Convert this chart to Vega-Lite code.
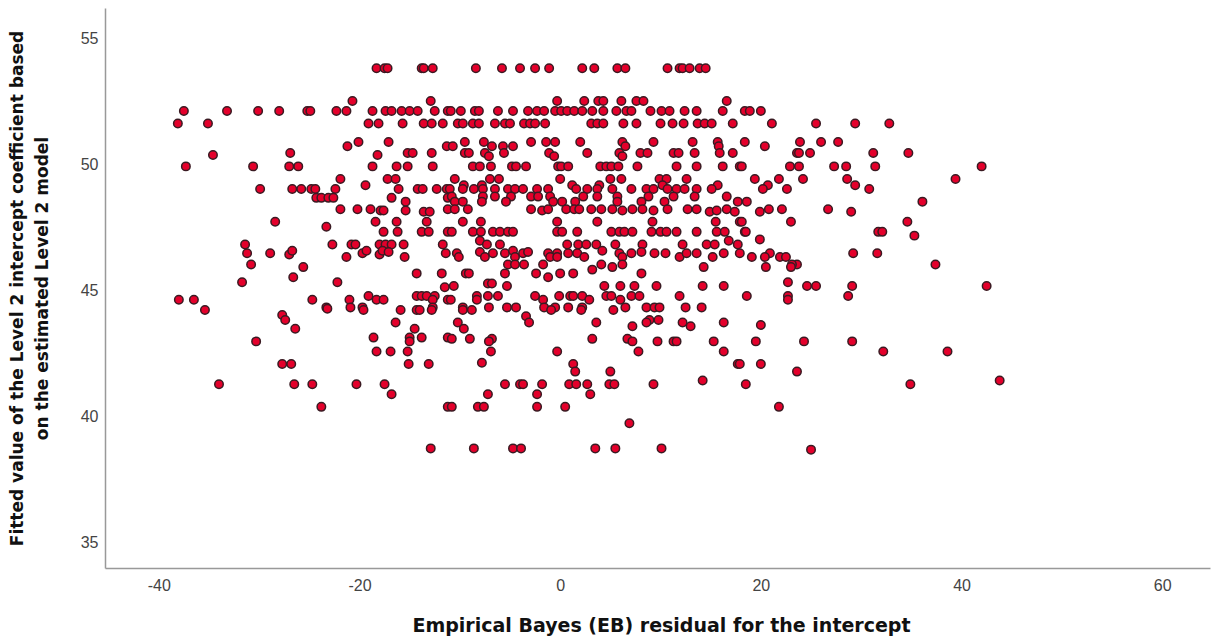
{"$schema":"https://vega.github.io/schema/vega-lite/v6.json","width":1105,"height":560,"autosize":{"type":"none"},"padding":{"left":105,"top":8,"right":11,"bottom":73},"background":"white","config":{"view":{"stroke":null}},"data":{"values":[
{"x":-18.3,"y":53.8},{"x":-17.5,"y":53.8},{"x":-17.2,"y":53.8},{"x":-13.8,"y":53.8},{"x":-13.6,"y":53.8},{"x":-12.7,"y":53.8},{"x":-8.4,"y":53.8},{"x":-5.8,"y":53.8},{"x":-4,"y":53.8},{"x":-2.5,"y":53.8},{"x":-1.1,"y":53.8},{"x":2.2,"y":53.8},{"x":3.4,"y":53.8},{"x":5.7,"y":53.8},{"x":6.5,"y":53.8},{"x":10.7,"y":53.8},{"x":11.9,"y":53.8},{"x":12.2,"y":53.8},{"x":12.9,"y":53.8},{"x":13.9,"y":53.8},{"x":14.5,"y":53.8},
{"x":-20.7,"y":52.5},{"x":-12.9,"y":52.5},{"x":-0.3,"y":52.5},{"x":2.4,"y":52.5},{"x":3.8,"y":52.5},{"x":4.3,"y":52.5},{"x":6.1,"y":52.5},{"x":7.6,"y":52.5},{"x":8.3,"y":52.5},{"x":16.6,"y":52.5},
{"x":-37.5,"y":52.1},{"x":-33.2,"y":52.1},{"x":-30.1,"y":52.1},{"x":-28,"y":52.1},{"x":-25.2,"y":52.1},{"x":-24.9,"y":52.1},{"x":-22.3,"y":52.1},{"x":-21.3,"y":52.1},{"x":-18.7,"y":52.1},{"x":-17.4,"y":52.1},{"x":-16.8,"y":52.1},{"x":-15.8,"y":52.1},{"x":-15,"y":52.1},{"x":-14.2,"y":52.1},{"x":-12.5,"y":52.1},{"x":-11.2,"y":52.1},{"x":-10.9,"y":52.1},{"x":-9.9,"y":52.1},{"x":-8.5,"y":52.1},{"x":-8.1,"y":52.1},{"x":-6.2,"y":52.1},{"x":-4.7,"y":52.1},{"x":-3.2,"y":52.1},{"x":-2.3,"y":52.1},{"x":-1.6,"y":52.1},{"x":-0.5,"y":52.1},{"x":0.1,"y":52.1},{"x":0.7,"y":52.1},{"x":1.4,"y":52.1},{"x":2.2,"y":52.1},{"x":3.2,"y":52.1},{"x":4.3,"y":52.1},{"x":5.6,"y":52.1},{"x":6.6,"y":52.1},{"x":7.1,"y":52.1},{"x":9,"y":52.1},{"x":10.1,"y":52.1},{"x":10.9,"y":52.1},{"x":12.4,"y":52.1},{"x":13.6,"y":52.1},{"x":16.2,"y":52.1},{"x":18.4,"y":52.1},{"x":18.9,"y":52.1},{"x":20,"y":52.1},
{"x":-38.1,"y":51.6},{"x":-35.1,"y":51.6},{"x":-19.1,"y":51.6},{"x":-18.1,"y":51.6},{"x":-15.7,"y":51.6},{"x":-13.6,"y":51.6},{"x":-12.8,"y":51.6},{"x":-11.7,"y":51.6},{"x":-10.2,"y":51.6},{"x":-9.7,"y":51.6},{"x":-8.7,"y":51.6},{"x":-8.1,"y":51.6},{"x":-6.5,"y":51.6},{"x":-5.5,"y":51.6},{"x":-5,"y":51.6},{"x":-3.6,"y":51.6},{"x":-3,"y":51.6},{"x":-2.5,"y":51.6},{"x":-1.5,"y":51.6},{"x":3.1,"y":51.6},{"x":3.7,"y":51.6},{"x":4.3,"y":51.6},{"x":6.3,"y":51.6},{"x":7.6,"y":51.6},{"x":10,"y":51.6},{"x":11.2,"y":51.6},{"x":12.3,"y":51.6},{"x":13.7,"y":51.6},{"x":14.4,"y":51.6},{"x":15.1,"y":51.6},{"x":17.2,"y":51.6},{"x":21.1,"y":51.6},{"x":25.5,"y":51.6},{"x":29.4,"y":51.6},{"x":32.8,"y":51.6},
{"x":-20.1,"y":50.87},{"x":-17.1,"y":50.87},{"x":-9.5,"y":50.87},{"x":-7.6,"y":50.87},{"x":-2.9,"y":50.87},{"x":-1.4,"y":50.87},{"x":-0.5,"y":50.87},{"x":2,"y":50.87},{"x":6.2,"y":50.87},{"x":9.3,"y":50.87},{"x":13.2,"y":50.87},{"x":15.7,"y":50.87},{"x":18.4,"y":50.87},{"x":23.9,"y":50.87},{"x":26,"y":50.87},{"x":27.7,"y":50.87},
{"x":-21.2,"y":50.7},{"x":-11.3,"y":50.7},{"x":-10.7,"y":50.7},{"x":-6.8,"y":50.7},{"x":-5.7,"y":50.7},{"x":-4.7,"y":50.7},{"x":6.5,"y":50.7},{"x":15.8,"y":50.7},{"x":20.4,"y":50.7},
{"x":-34.6,"y":50.35},{"x":-18.2,"y":50.35},{"x":-26.9,"y":50.43},{"x":-15.2,"y":50.43},{"x":-14.7,"y":50.43},{"x":-12.8,"y":50.43},{"x":-9.5,"y":50.43},{"x":-9.1,"y":50.43},{"x":-7.5,"y":50.43},{"x":-7.1,"y":50.3},{"x":-5.6,"y":50.43},{"x":-1.1,"y":50.43},{"x":-0.6,"y":50.3},{"x":2.7,"y":50.43},{"x":5.9,"y":50.43},{"x":6.2,"y":50.3},{"x":8,"y":50.43},{"x":8.7,"y":50.43},{"x":11.3,"y":50.43},{"x":11.8,"y":50.43},{"x":13.4,"y":50.43},{"x":15.9,"y":50.43},{"x":17.2,"y":50.43},{"x":23.6,"y":50.43},{"x":23.8,"y":50.43},{"x":24.9,"y":50.43},{"x":31.2,"y":50.43},{"x":34.7,"y":50.43},
{"x":-37.3,"y":49.9},{"x":-30.6,"y":49.9},{"x":-27,"y":49.9},{"x":-26.1,"y":49.9},{"x":-18.7,"y":49.9},{"x":-16.3,"y":49.9},{"x":-15.2,"y":49.9},{"x":-12.7,"y":49.9},{"x":-8.7,"y":49.9},{"x":-8,"y":49.9},{"x":-6.9,"y":49.9},{"x":-4.8,"y":49.9},{"x":-4.4,"y":49.9},{"x":-3.4,"y":49.9},{"x":-0.2,"y":49.9},{"x":0.1,"y":49.9},{"x":0.8,"y":49.9},{"x":4,"y":49.9},{"x":4.6,"y":49.9},{"x":5.1,"y":49.9},{"x":5.8,"y":49.9},{"x":7.7,"y":49.9},{"x":11.6,"y":49.9},{"x":13.6,"y":49.9},{"x":16.2,"y":49.9},{"x":17.9,"y":49.9},{"x":18.1,"y":49.9},{"x":22.9,"y":49.9},{"x":23.8,"y":49.9},{"x":27.3,"y":49.9},{"x":28.5,"y":49.9},{"x":31.4,"y":49.9},{"x":42,"y":49.9},
{"x":-21.9,"y":49.4},{"x":-17.2,"y":49.4},{"x":-16.4,"y":49.4},{"x":-10.5,"y":49.4},{"x":-7,"y":49.4},{"x":-6.1,"y":49.4},{"x":0,"y":49.4},{"x":5,"y":49.4},{"x":6.1,"y":49.4},{"x":9.9,"y":49.4},{"x":10.6,"y":49.4},{"x":12.6,"y":49.4},{"x":19.4,"y":49.4},{"x":21.8,"y":49.4},{"x":24.2,"y":49.4},{"x":28.6,"y":49.4},{"x":39.4,"y":49.4},
{"x":-19.4,"y":49.15},{"x":-9.6,"y":49.15},{"x":-7.8,"y":49.15},{"x":1.2,"y":49.15},{"x":3.9,"y":49.15},{"x":10.2,"y":49.15},{"x":15.7,"y":49.15},{"x":20.7,"y":49.15},{"x":29.4,"y":49.15},
{"x":-29.9,"y":49},{"x":-26.7,"y":49},{"x":-25.8,"y":49},{"x":-24.8,"y":49},{"x":-24.4,"y":49},{"x":-22.4,"y":49},{"x":-16.1,"y":49},{"x":-14.2,"y":49},{"x":-13.7,"y":49},{"x":-12.3,"y":49},{"x":-11.3,"y":49},{"x":-11,"y":49},{"x":-9.7,"y":49},{"x":-8.6,"y":49},{"x":-7.7,"y":49},{"x":-6.5,"y":49},{"x":-5.2,"y":49},{"x":-4.5,"y":49},{"x":-3.7,"y":49},{"x":-2.3,"y":49},{"x":-1.2,"y":49},{"x":1.6,"y":49},{"x":2.7,"y":49},{"x":3.7,"y":49},{"x":5.2,"y":49},{"x":7.1,"y":49},{"x":8.6,"y":49},{"x":9.3,"y":49},{"x":10.7,"y":49},{"x":11.6,"y":49},{"x":12.4,"y":49},{"x":13.6,"y":49},{"x":15.1,"y":49},{"x":20.2,"y":49},{"x":22.6,"y":49},{"x":30.8,"y":49},
{"x":-24.3,"y":48.65},{"x":-23.8,"y":48.65},{"x":-23.1,"y":48.65},{"x":-22.6,"y":48.65},{"x":-16.8,"y":48.65},{"x":-11.2,"y":48.65},{"x":-10.8,"y":48.7},{"x":-7.7,"y":48.7},{"x":-6.5,"y":48.7},{"x":-4.9,"y":48.7},{"x":-2.9,"y":48.7},{"x":-2.2,"y":48.7},{"x":-1,"y":48.7},{"x":2.3,"y":48.7},{"x":3.7,"y":48.7},{"x":5.7,"y":48.7},{"x":8.8,"y":48.7},{"x":11.3,"y":48.7},{"x":13.4,"y":48.7},{"x":16.6,"y":48.7},
{"x":-15.4,"y":48.5},{"x":-10.5,"y":48.5},{"x":-9.7,"y":48.5},{"x":-7.8,"y":48.5},{"x":-5.4,"y":48.5},{"x":-0.7,"y":48.5},{"x":0.2,"y":48.5},{"x":1.5,"y":48.5},{"x":5.7,"y":48.5},{"x":8.1,"y":48.5},{"x":10.4,"y":48.5},{"x":17.7,"y":48.5},{"x":18.6,"y":48.5},{"x":36.1,"y":48.5},
{"x":-21.9,"y":48.2},{"x":-20.2,"y":48.2},{"x":-18.9,"y":48.2},{"x":-17.9,"y":48.15},{"x":-17.6,"y":48.15},{"x":-15.4,"y":48.15},{"x":-13.6,"y":48.1},{"x":-13,"y":48.1},{"x":-11.2,"y":48.2},{"x":-10.5,"y":48.2},{"x":-9.2,"y":48.2},{"x":-2.9,"y":48.2},{"x":-1.8,"y":48.15},{"x":-1.2,"y":48.2},{"x":0.6,"y":48.2},{"x":1.4,"y":48.2},{"x":1.9,"y":48.2},{"x":3.1,"y":48.2},{"x":4.1,"y":48.2},{"x":5.2,"y":48.2},{"x":6.2,"y":48.15},{"x":7.2,"y":48.2},{"x":8.2,"y":48.2},{"x":9.3,"y":48.15},{"x":10.7,"y":48.2},{"x":12.7,"y":48.2},{"x":13.6,"y":48.2},{"x":14.9,"y":48.1},{"x":15.6,"y":48.15},{"x":16.6,"y":48.2},{"x":17.4,"y":48.1},{"x":19.9,"y":48.1},{"x":20.8,"y":48.2},{"x":22.1,"y":48.2},{"x":26.7,"y":48.2},{"x":29,"y":48.1},
{"x":-28.4,"y":47.7},{"x":-18.4,"y":47.7},{"x":-16.3,"y":47.7},{"x":-13.3,"y":47.7},{"x":-9.7,"y":47.7},{"x":-7.9,"y":47.7},{"x":-0.3,"y":47.7},{"x":3.7,"y":47.7},{"x":9.2,"y":47.7},{"x":15.5,"y":47.7},{"x":17.9,"y":47.7},{"x":18.1,"y":47.7},{"x":23,"y":47.7},{"x":34.6,"y":47.7},
{"x":-23.3,"y":47.5},
{"x":-17.6,"y":47.3},{"x":-16.2,"y":47.3},{"x":-13.8,"y":47.3},{"x":-13.1,"y":47.3},{"x":-11.2,"y":47.3},{"x":-10.8,"y":47.3},{"x":-8.7,"y":47.3},{"x":-7.9,"y":47.3},{"x":-6.7,"y":47.3},{"x":-6,"y":47.3},{"x":-5.2,"y":47.3},{"x":-4.7,"y":47.3},{"x":-0.3,"y":47.3},{"x":0.2,"y":47.3},{"x":1.7,"y":47.3},{"x":5.1,"y":47.3},{"x":5.9,"y":47.3},{"x":6.4,"y":47.3},{"x":7.2,"y":47.3},{"x":9.1,"y":47.3},{"x":10,"y":47.3},{"x":10.6,"y":47.3},{"x":11.6,"y":47.3},{"x":13.6,"y":47.3},{"x":15.6,"y":47.3},{"x":16.4,"y":47.3},{"x":18.4,"y":47.3},{"x":18.5,"y":47.3},{"x":31.7,"y":47.3},{"x":32.1,"y":47.3},{"x":35.3,"y":47.15},
{"x":-8,"y":46.95},{"x":16.8,"y":46.95},{"x":19.9,"y":47},
{"x":-31.4,"y":46.8},{"x":-22.7,"y":46.8},{"x":-20.8,"y":46.8},{"x":-20.4,"y":46.8},{"x":-18,"y":46.8},{"x":-17.4,"y":46.8},{"x":-16.8,"y":46.8},{"x":-15.6,"y":46.8},{"x":-11.7,"y":46.8},{"x":-7.3,"y":46.8},{"x":-6,"y":46.8},{"x":0.7,"y":46.8},{"x":1.8,"y":46.8},{"x":2.6,"y":46.8},{"x":3.6,"y":46.8},{"x":5.5,"y":46.8},{"x":8.2,"y":46.8},{"x":12.2,"y":46.8},{"x":14.6,"y":46.8},{"x":15.4,"y":46.8},{"x":17.7,"y":46.8},
{"x":-31.2,"y":46.45},{"x":-28.9,"y":46.45},{"x":-27,"y":46.4},{"x":-26.7,"y":46.55},{"x":-21.3,"y":46.3},{"x":-19.7,"y":46.45},{"x":-19.3,"y":46.55},{"x":-18,"y":46.4},{"x":-17.7,"y":46.55},{"x":-17.1,"y":46.5},{"x":-15.5,"y":46.3},{"x":-11.4,"y":46.45},{"x":-10.3,"y":46.45},{"x":-8,"y":46.5},{"x":-6.7,"y":46.45},{"x":-5.5,"y":46.45},{"x":-4.7,"y":46.55},{"x":-3.7,"y":46.45},{"x":-3.2,"y":46.5},{"x":-1.2,"y":46.45},{"x":-0.3,"y":46.45},{"x":0.8,"y":46.45},{"x":1.7,"y":46.45},{"x":2.4,"y":46.3},{"x":4.2,"y":46.55},{"x":5.9,"y":46.45},{"x":6.2,"y":46.3},{"x":7.1,"y":46.45},{"x":8.1,"y":46.5},{"x":9.4,"y":46.45},{"x":10.5,"y":46.45},{"x":11.9,"y":46.3},{"x":12.6,"y":46.45},{"x":13.6,"y":46.45},{"x":15.2,"y":46.3},{"x":16.3,"y":46.45},{"x":17.9,"y":46.45},{"x":20.9,"y":46.45},{"x":29.2,"y":46.45},{"x":31.6,"y":46.45},
{"x":-10.1,"y":46.3},{"x":-7.5,"y":46.3},{"x":-4.5,"y":46.3},{"x":-1,"y":46.3},{"x":-0.3,"y":46.3},{"x":19.1,"y":46.3},{"x":20.4,"y":46.3},{"x":21.9,"y":46.3},{"x":22.5,"y":46.3},
{"x":-30.8,"y":46},{"x":-25.6,"y":45.9},{"x":-5.2,"y":46},{"x":-4.5,"y":46},{"x":-3.6,"y":46},{"x":-1.7,"y":46},{"x":3.2,"y":45.8},{"x":4.1,"y":46},{"x":5.2,"y":45.9},{"x":6.2,"y":46},{"x":14.3,"y":45.9},{"x":23.6,"y":46},{"x":23.1,"y":46},{"x":37.4,"y":46},{"x":20.5,"y":45.9},{"x":23,"y":45.9},
{"x":-14.3,"y":45.65},{"x":-11.8,"y":45.65},{"x":-9.4,"y":45.65},{"x":-9.1,"y":45.65},{"x":-5.5,"y":45.65},{"x":-2.4,"y":45.65},{"x":-1.2,"y":45.5},{"x":0,"y":45.65},{"x":1.3,"y":45.65},{"x":8.1,"y":45.65},{"x":-26.6,"y":45.5},
{"x":-31.7,"y":45.3},{"x":-22.2,"y":45.3},{"x":-7.2,"y":45.25},{"x":-6.8,"y":45.25},{"x":22.7,"y":45.3},
{"x":-11.5,"y":45.1},{"x":-10.6,"y":45.15},{"x":-5.3,"y":45.15},{"x":4.4,"y":45.15},{"x":6,"y":45.15},{"x":7.4,"y":45.15},{"x":9.6,"y":45.15},{"x":14.2,"y":45.15},{"x":16.3,"y":45.15},{"x":24.6,"y":45.15},{"x":25.5,"y":45.15},{"x":29.1,"y":45.15},{"x":42.5,"y":45.15},
{"x":-19.1,"y":44.75},{"x":-14.3,"y":44.75},{"x":-13.8,"y":44.75},{"x":-13.3,"y":44.75},{"x":-12.5,"y":44.75},{"x":-8.3,"y":44.75},{"x":-7.2,"y":44.75},{"x":-6.2,"y":44.75},{"x":-2.5,"y":44.75},{"x":-0.1,"y":44.75},{"x":1,"y":44.75},{"x":1.3,"y":44.75},{"x":2.2,"y":44.75},{"x":4.6,"y":44.75},{"x":5.1,"y":44.75},{"x":7.1,"y":44.75},{"x":7.9,"y":44.75},{"x":11.9,"y":44.75},{"x":18.6,"y":44.75},{"x":22.7,"y":44.75},{"x":28.7,"y":44.75},
{"x":-38,"y":44.6},{"x":-36.5,"y":44.6},{"x":-24.7,"y":44.6},{"x":-21,"y":44.6},{"x":-18.3,"y":44.6},{"x":-17.6,"y":44.6},{"x":-12.7,"y":44.6},{"x":-11.2,"y":44.6},{"x":-10.9,"y":44.6},{"x":-8.3,"y":44.6},{"x":-1.7,"y":44.6},{"x":2.9,"y":44.6},{"x":6,"y":44.6},{"x":22.7,"y":44.6},
{"x":-35.4,"y":44.2},{"x":-23.3,"y":44.3},{"x":-23.2,"y":44.25},{"x":-20.9,"y":44.3},{"x":-19.7,"y":44.3},{"x":-19.6,"y":44.2},{"x":-15.9,"y":44.2},{"x":-14.3,"y":44.2},{"x":-14,"y":44.2},{"x":-12.7,"y":44.3},{"x":-12.8,"y":44.2},{"x":-9.7,"y":44.3},{"x":-7.1,"y":44.3},{"x":-5.3,"y":44.3},{"x":-4.4,"y":44.3},{"x":-1.6,"y":44.3},{"x":-0.5,"y":44.3},{"x":0.8,"y":44.3},{"x":2.2,"y":44.3},{"x":6.5,"y":44.3},{"x":8.6,"y":44.3},{"x":9.4,"y":44.3},{"x":9.9,"y":44.3},{"x":12.5,"y":44.3},{"x":14.1,"y":44.3},{"x":-9.7,"y":44.2},{"x":-8.8,"y":44.2},{"x":-0.9,"y":44.2},{"x":2.1,"y":44.2},{"x":5.3,"y":44.2},
{"x":-27.7,"y":44},{"x":-3.4,"y":43.95},{"x":-27.4,"y":43.8},{"x":8.9,"y":43.8},{"x":9.8,"y":43.8},{"x":-16.4,"y":43.7},{"x":-3.1,"y":43.7},{"x":-10.2,"y":43.7},{"x":3.6,"y":43.7},{"x":8.6,"y":43.7},{"x":12.2,"y":43.7},{"x":16.3,"y":43.7},{"x":7.2,"y":43.55},{"x":13,"y":43.55},{"x":20,"y":43.6},
{"x":-26.4,"y":43.45},{"x":-14.5,"y":43.45},{"x":-9.6,"y":43.45},
{"x":-18.6,"y":43.1},{"x":-15,"y":43.1},{"x":-13.8,"y":43.1},{"x":-11.2,"y":43.1},{"x":-10.8,"y":43.05},{"x":-9,"y":43.05},{"x":-6.8,"y":43.05},{"x":3.2,"y":43.05},{"x":6.7,"y":43.05},
{"x":-30.3,"y":42.95},{"x":-15,"y":42.95},{"x":-7.1,"y":42.95},{"x":7.2,"y":42.95},{"x":9.7,"y":42.95},{"x":11.3,"y":42.95},{"x":11.6,"y":42.95},{"x":15.3,"y":42.95},{"x":19.5,"y":42.95},{"x":24.3,"y":42.95},{"x":29.1,"y":42.95},
{"x":-18.3,"y":42.55},{"x":-16.9,"y":42.55},{"x":-15.2,"y":42.55},{"x":-6.9,"y":42.55},{"x":-0.3,"y":42.55},{"x":7.8,"y":42.55},{"x":16.3,"y":42.55},{"x":32.2,"y":42.55},{"x":38.6,"y":42.55},
{"x":-27.7,"y":42.05},{"x":-26.8,"y":42.05},{"x":-15.1,"y":42.05},{"x":-13.1,"y":42.05},{"x":-7.8,"y":42.1},{"x":1.3,"y":42.05},{"x":17.7,"y":42.05},{"x":17.9,"y":42.05},{"x":20,"y":42.05},
{"x":1.5,"y":41.75},{"x":5,"y":41.75},{"x":23.6,"y":41.75},{"x":14.2,"y":41.4},{"x":43.8,"y":41.4},
{"x":-34,"y":41.25},{"x":-26.5,"y":41.25},{"x":-24.7,"y":41.25},{"x":-20.3,"y":41.25},{"x":-17.5,"y":41.25},{"x":-5.5,"y":41.25},{"x":-4,"y":41.25},{"x":-3.7,"y":41.25},{"x":-1.8,"y":41.25},{"x":0.9,"y":41.25},{"x":1.6,"y":41.25},{"x":2.7,"y":41.25},{"x":4.9,"y":41.25},{"x":5.4,"y":41.25},{"x":9.3,"y":41.25},{"x":18.5,"y":41.25},{"x":34.9,"y":41.25},
{"x":-16.8,"y":40.85},{"x":-7.2,"y":40.85},{"x":-2.3,"y":40.85},{"x":3,"y":40.85},
{"x":-23.8,"y":40.35},{"x":-11.2,"y":40.35},{"x":-10.8,"y":40.35},{"x":-8.2,"y":40.35},{"x":-7.6,"y":40.35},{"x":-2.3,"y":40.35},{"x":0.5,"y":40.35},{"x":21.8,"y":40.35},
{"x":6.9,"y":39.7},
{"x":-12.9,"y":38.7},{"x":-8.6,"y":38.7},{"x":-4.7,"y":38.7},{"x":-3.9,"y":38.7},{"x":3.5,"y":38.7},{"x":5.5,"y":38.7},{"x":10.1,"y":38.7},{"x":25,"y":38.65}
]},
"mark":{"type":"point","shape":"circle","filled":true,"size":72,"fill":"#e4002b","stroke":"#3a1a22","strokeWidth":1.5,"opacity":1,"clip":false},
"encoding":{
"x":{"field":"x","type":"quantitative","scale":{"domain":[-45.36,64.76],"nice":false,"zero":false},"axis":{"values":[-40,-20,0,20,40,60],"labelExpr":"''+datum.value","grid":false,"ticks":false,"domainColor":"#999999","domainWidth":1.5,"labelColor":"#444444","labelFont":"Liberation Sans","labelFontSize":16,"labelPadding":9,"title":"Empirical Bayes (EB) residual for the intercept","titleFont":"DejaVu Sans","titleFontSize":19,"titleFontWeight":"bold","titleColor":"#111111","titlePadding":23,"titleX":556}},
"y":{"field":"y","type":"quantitative","scale":{"domain":[33.95,56.19],"nice":false,"zero":false},"axis":{"values":[35,40,45,50,55],"grid":false,"ticks":false,"domainColor":"#999999","domainWidth":1.5,"labelColor":"#444444","labelFont":"Liberation Sans","labelFontSize":16,"labelPadding":7,"labelOffset":1,"title":["Fitted value of the Level 2 intercept coefficient based","on the estimated Level 2 model"],"titleFont":"DejaVu Sans","titleFontSize":17,"titleFontWeight":"bold","titleColor":"#111111","titlePadding":29,"titleLineHeight":25}}
}}
